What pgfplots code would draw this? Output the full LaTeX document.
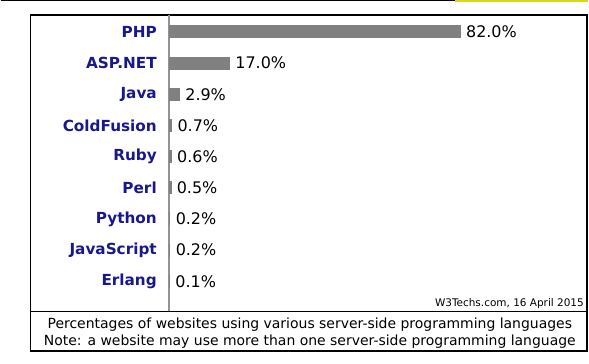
\documentclass[border=0pt]{standalone}
\usepackage{pgfplots}
\pgfplotsset{compat=1.18}
\usepackage{fontspec}
\setmainfont{DejaVu Sans}
\definecolor{navy}{RGB}{24,24,140}
\definecolor{bargray}{RGB}{128,128,128}
\begin{document}
\begin{tikzpicture}[x=1pt,y=1pt]
\path (0,0) rectangle (589,365);
% screenshot top edge
\draw[black, line width=1.5pt] (0,364.3) -- (589,364.3);
\draw[yellow!85!black, line width=2pt] (456,364) -- (589,364);
% frame
\draw[black, line width=1.2pt] (30,13) rectangle (588,350);
\draw[black, line width=1.2pt] (30,53) -- (588,53);
\begin{axis}[
  at={(169pt,53pt)}, anchor=south west,
  scale only axis, width=419pt, height=297pt,
  xbar, bar width=12pt,
  xmin=0, xmax=117.7,
  ymin=-0.96, ymax=8.544,
  axis x line=none,
  axis y line=left,
  y axis line style={draw=gray!85, line width=2pt, -},
  ytick={0,...,8},
  yticklabels={Erlang,JavaScript,Python,Perl,Ruby,ColdFusion,Java,ASP.NET,PHP},
  yticklabel style={font=\fontsize{15.3}{15.3}\selectfont\bfseries, text=navy, xshift=-9pt},
  major tick length=0pt,
  point meta=explicit symbolic,
  nodes near coords,
  nodes near coords style={font=\fontsize{16}{16}\selectfont, text=black, anchor=west, xshift=2pt},
  clip=false,
]
\addplot[fill=bargray, draw=bargray, line width=1pt] coordinates {
  (0.1,0) [0.1\%]
  (0.2,1) [0.2\%]
  (0.2,2) [0.2\%]
  (0.5,3) [0.5\%]
  (0.6,4) [0.6\%]
  (0.7,5) [0.7\%]
  (2.9,6) [2.9\%]
  (17.0,7) [17.0\%]
  (82.0,8) [82.0\%]
};
\end{axis}
\node[anchor=south east, font=\fontsize{10.5}{10.5}\selectfont, inner sep=0pt] at (585,55) {W3Techs.com, 16 April 2015};
\node[anchor=base, font=\fontsize{14}{14}\selectfont, inner sep=0pt] at (310,36) {Percentages of websites using various server-side programming languages};
\node[anchor=base, font=\fontsize{14}{14}\selectfont, inner sep=0pt] at (310,19) {Note: a website may use more than one server-side programming language};
\end{tikzpicture}
\end{document}
